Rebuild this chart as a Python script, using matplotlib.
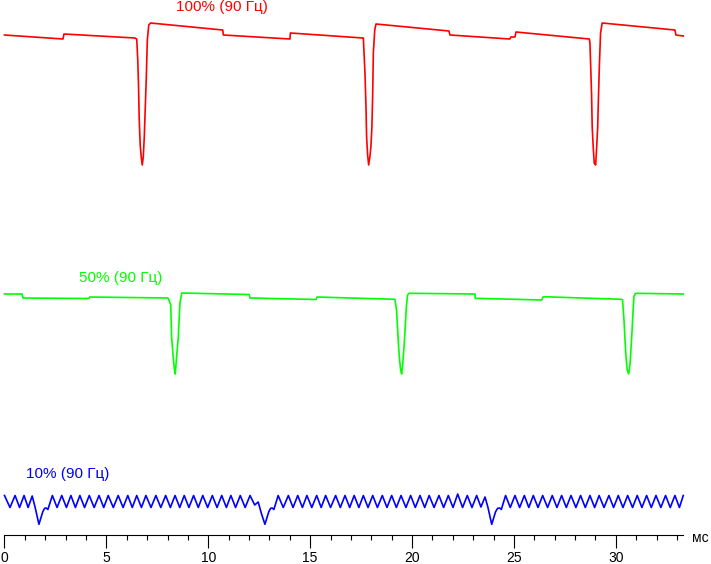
import matplotlib
matplotlib.use("Agg")
import matplotlib.pyplot as plt
from matplotlib.ticker import MultipleLocator

plt.rcParams['font.family'] = ['Liberation Sans', 'DejaVu Sans']

# brightness traces (ms, arbitrary units)
red_t = [0.00, 2.87, 2.92, 6.40, 6.49, 6.54, 6.58, 6.61, 6.66, 6.71, 6.76, 6.81,
         6.86, 6.91, 6.96, 7.01, 7.08, 7.17, 10.71, 10.74, 14.01, 14.03, 17.59,
         17.61, 17.69, 17.74, 17.77, 17.82, 17.87, 17.93, 17.98, 18.03, 18.07,
         18.10, 18.17, 18.23, 21.81, 21.86, 24.80, 24.85, 25.05, 25.10, 28.70,
         28.73, 28.76, 28.81, 28.84, 28.89, 28.94, 29.01, 29.06, 29.11, 29.14,
         29.19, 29.25, 29.33, 32.90, 32.95, 33.31]
red_v = [500, 496, 501, 497, 496, 475, 448, 417, 390, 378, 370, 378,
         398, 428, 458, 495, 510, 512, 505, 500, 496, 502, 497,
         497, 462, 428, 398, 380, 370, 378, 388, 408, 442,
         482, 505, 511, 504, 500, 496, 498, 498, 503, 496,
         492, 473, 440, 408, 388, 372, 370, 388, 408, 432,
         468, 502, 512, 505, 500, 499]

green_t = [0.00, 0.86, 0.91, 4.14, 4.19, 8.02, 8.07, 8.16, 8.20, 8.28, 8.33, 8.38,
           8.45, 8.53, 8.61, 8.70, 12.00, 12.05, 15.29, 15.34, 19.16, 19.24,
           19.29, 19.34, 19.39, 19.44, 19.49, 19.55, 19.62, 19.67, 19.72, 19.78,
           19.86, 23.09, 23.10, 26.36, 26.44, 30.28, 30.33, 30.40, 30.45, 30.50,
           30.56, 30.63, 30.70, 30.74, 30.79, 30.84, 30.89, 30.97, 33.31]
green_v = [241, 241, 237, 236.5, 238, 237, 235, 230, 198, 178, 167, 161,
           179, 198, 232, 242, 240.5, 237, 235.5, 238, 235.7, 225,
           207, 188, 175, 165, 161, 173, 192, 210, 228, 240,
           241.7, 241, 236.7, 235, 238.3, 235.7, 235, 215, 195, 178,
           165, 161, 171.7, 185, 202, 221.7, 239, 241.7, 241]

blue_t = [0.00, 0.27, 0.52, 0.74, 0.96, 1.16, 1.36, 1.50, 1.69, 1.88, 1.97, 2.05,
          2.13, 2.35, 2.58, 2.81, 3.04, 3.26, 3.48, 3.70, 3.93, 4.16, 4.40, 4.64,
          4.87, 5.09, 5.34, 5.58, 5.82, 6.05, 6.27, 6.49, 6.72, 6.94, 7.19, 7.43,
          7.67, 7.91, 8.14, 8.37, 8.60, 8.82, 9.05, 9.28, 9.51, 9.73, 9.97, 10.20,
          10.43, 10.66, 10.89, 11.11, 11.34, 11.57, 11.81, 12.05, 12.28, 12.45,
          12.60, 12.78, 12.97, 13.06, 13.14, 13.22, 13.43, 13.68, 13.93, 14.16,
          14.39, 14.62, 14.84, 15.08, 15.32, 15.54, 15.76, 16.00, 16.25, 16.48,
          16.71, 16.94, 17.16, 17.39, 17.61, 17.84, 18.07, 18.30, 18.54, 18.77,
          19.00, 19.23, 19.46, 19.70, 19.93, 20.16, 20.39, 20.62, 20.84, 21.08,
          21.32, 21.55, 21.78, 22.01, 22.24, 22.48, 22.71, 22.94, 23.17, 23.38,
          23.58, 23.72, 23.91, 24.10, 24.20, 24.30, 24.38, 24.59, 24.82, 25.05,
          25.28, 25.51, 25.73, 25.95, 26.18, 26.41, 26.65, 26.88, 27.11, 27.34,
          27.57, 27.80, 28.04, 28.27, 28.50, 28.73, 28.96, 29.18, 29.42, 29.66,
          29.89, 30.12, 30.35, 30.58, 30.82, 31.05, 31.28, 31.51, 31.74, 31.97,
          32.21, 32.44, 32.67, 32.90, 33.12, 33.31]
blue_v = [39.5, 27.5, 39.5, 27.5, 39.5, 27.5, 39, 28, 10.7, 23.3, 26.7, 27,
          25.5, 39.5, 27.5, 39.5, 27.5, 39.5, 27.5, 39.5, 27.5, 39.5, 27.5, 39.5,
          27.5, 39.5, 27.5, 39.5, 27.5, 39.5, 27.5, 39.5, 27.5, 39.5, 27.5, 39.5,
          27.5, 39.5, 27.5, 39.5, 27.5, 39.5, 27.5, 39.5, 27.5, 39.5, 27.5, 39.5,
          27.5, 39.5, 27.5, 39.5, 27.5, 39.5, 27.5, 39.5, 30, 33,
          22, 10.7, 23.3, 26.7, 27, 25.5, 39.5, 27.5, 39.5, 27.5,
          39.5, 27.5, 39.5, 27.5, 39.5, 27.5, 39.5, 27.5, 39.5, 27.5,
          39.5, 27.5, 39.5, 27.5, 39.5, 27.5, 39.5, 27.5, 39.5, 27.5,
          39.5, 27.5, 39.5, 27.5, 39.5, 27.5, 39.5, 27.5, 39.5, 27.5,
          39.5, 27.5, 39.5, 27.5, 41, 27.5, 39.5, 27.5, 39.5, 28,
          38, 28, 10.7, 23.3, 26.7, 27, 25.5, 39.5, 27.5, 39.5,
          27.5, 39.5, 27.5, 39.5, 27.5, 39.5, 27.5, 39.5, 27.5, 39.5,
          27.5, 39.5, 27.5, 39.5, 27.5, 39.5, 27.5, 39.5, 27.5, 39.5,
          27.5, 39.5, 27.5, 39.5, 27.5, 39.5, 27.5, 39.5, 27.5, 39.5,
          27.5, 39.5, 27.5, 39.5, 27.5, 39.5]

labels = ['100% (90 Гц)', '50% (90 Гц)', '10% (90 Гц)']
colors = ['#ff0000', '#00ff00', '#0000ff']

fig = plt.figure(figsize=(7.11, 5.64), dpi=100)
ax = fig.add_axes([0, 0, 1, 1])

for t, v, c in zip([red_t, green_t, blue_t], [red_v, green_v, blue_v], colors):
    ax.plot(t, v, color=c, lw=1.2)

ax.text(10.67, 528, labels[0], color=colors[0], fontsize=11, ha='center', va='center')
ax.text(5.72, 257, labels[1], color=colors[1], fontsize=11, ha='center', va='center')
ax.text(3.12, 61, labels[2], color=colors[2], fontsize=11, ha='center', va='center')
ax.text(34.13, -3.5, 'мс', fontsize=10, ha='center', va='center')

ax.set_xlim(-0.22, 34.67)
ax.set_ylim(-29, 535)

for side in ['top', 'left', 'right']:
    ax.spines[side].set_visible(False)
ax.spines['bottom'].set_position(('data', 0))
ax.spines['bottom'].set_bounds(0, 33.3)
ax.spines['bottom'].set_linewidth(0.8)
ax.set_yticks([])
ax.xaxis.set_major_locator(MultipleLocator(5))
ax.xaxis.set_minor_locator(MultipleLocator(1))
ax.set_xticks(range(0, 31, 5))
ax.set_xticks(range(0, 34), minor=True)
ax.tick_params(axis='x', which='major', length=9.4, width=0.8, pad=2, labelsize=10)
ax.tick_params(axis='x', which='minor', length=3.6, width=0.8)

fig.savefig('out.png', dpi=100)
